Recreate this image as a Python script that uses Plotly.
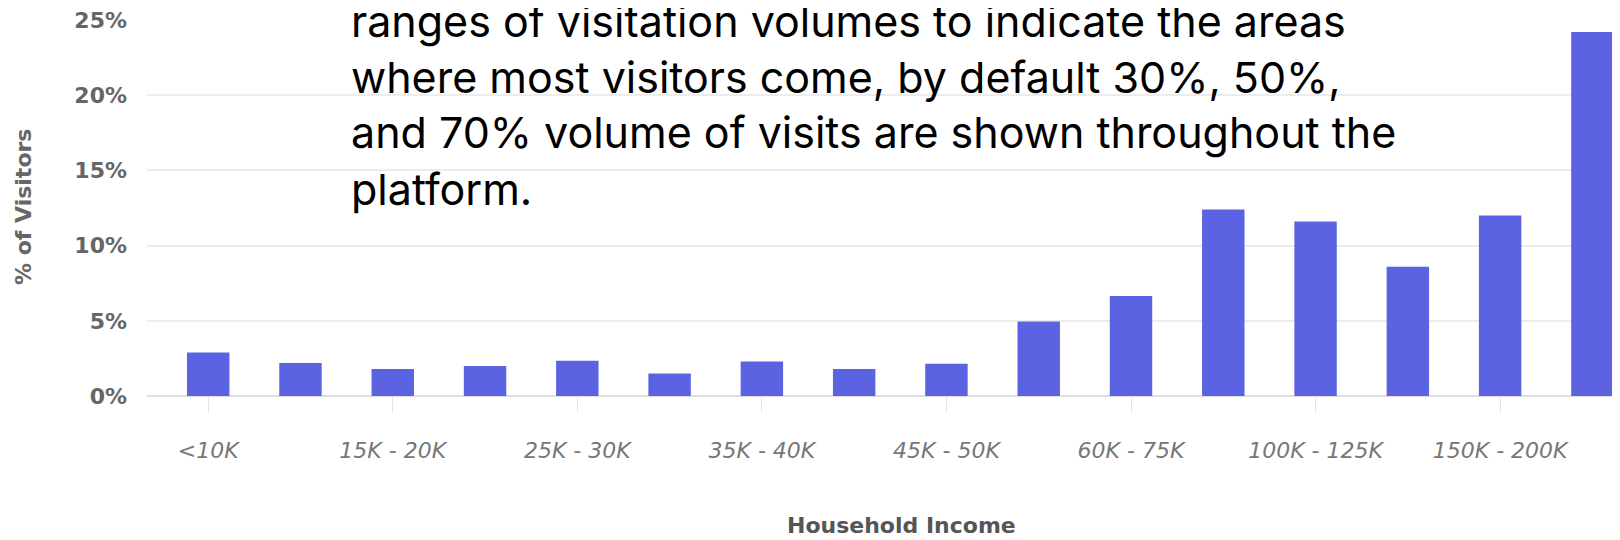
import plotly.graph_objects as go

categories = ["<10K", "10K - 15K", "15K - 20K", "20K - 25K", "25K - 30K", "30K - 35K",
              "35K - 40K", "40K - 45K", "45K - 50K", "50K - 60K", "60K - 75K",
              "75K - 100K", "100K - 125K", "125K - 150K", "150K - 200K", ">200K"]
visitors_pct = [2.9, 2.2, 1.8, 2.0, 2.35, 1.5, 2.3, 1.8, 2.15, 4.95, 6.65,
                12.4, 11.6, 8.6, 12.0, 24.2]
tick_labels = categories[0:15:2]
y_ticks = [0, 5, 10, 15, 20, 25]
y_tick_text = ["0%", "5%", "10%", "15%", "20%", "25%"]

overlay_lines = [
    "ranges of visitation volumes to indicate the areas",
    "where most visitors come, by default 30%, 50%,",
    "and 70% volume of visits are shown throughout the",
    "platform.",
]

# page body has an 8px default margin; layout is expressed in page pixels
OFF = 8
W, H = 1620, 540
PLOT_L, PLOT_T, PLOT_B = 147, 20, 396      # page pixels
ML, MT = PLOT_L - OFF, PLOT_T - OFF
MB = H - (PLOT_B - OFF)
MR = 0
PW, PH = W - ML - MR, H - MT - MB
CAT0, STEP = 208.2, 92.28                   # page x of first category centre, spacing

def px_x(x):
    return (x - OFF - ML) / PW

def px_y(y):
    return (PLOT_B - y) / PH

x_lo = (PLOT_L - CAT0) / STEP
x_hi = (W + OFF - CAT0) / STEP

fig = go.Figure()
fig.add_trace(go.Bar(
    x=categories, y=visitors_pct,
    marker=dict(color="#5c63e3", line=dict(width=0)),
    width=0.46,
))

fig.update_layout(
    width=W, height=H,
    margin=dict(l=ML, r=MR, t=MT, b=MB, pad=0, autoexpand=False),
    paper_bgcolor="white", plot_bgcolor="white",
    showlegend=False,
    bargap=0.54,
)

fig.update_xaxes(
    type="category", automargin=False,
    categoryorder="array", categoryarray=categories,
    range=[x_lo, x_hi],
    tickmode="array", tickvals=tick_labels, ticktext=tick_labels,
    ticks="outside", ticklen=15, tickwidth=1, tickcolor="#e4e4e4",
    ticklabelstandoff=20, ticklabeloverflow="allow",
    tickfont=dict(family="DejaVu Sans", size=22, color="#777777", style="italic"),
    showgrid=False, showline=False, zeroline=False,
)

fig.update_yaxes(
    range=[0, 25], automargin=False,
    tickmode="array", tickvals=y_ticks, ticktext=y_tick_text,
    tickfont=dict(family="DejaVu Sans", size=22, color="#666666", weight="bold"),
    ticklabelstandoff=19, ticklabeloverflow="allow",
    showgrid=True, gridcolor="#ececec", gridwidth=2,
    zeroline=True, zerolinecolor="#dedede", zerolinewidth=2,
    showline=False,
)

fig.add_annotation(
    text="Household Income", xref="paper", yref="paper",
    x=px_x(901.7), y=px_y(525.5), xanchor="center", yanchor="middle",
    showarrow=False,
    font=dict(family="DejaVu Sans", size=22, color="#555555", weight="bold"),
)
fig.add_annotation(
    text="% of Visitors", xref="paper", yref="paper",
    x=px_x(23.5), y=px_y(207.5), xanchor="center", yanchor="middle",
    textangle=-90, showarrow=False,
    font=dict(family="DejaVu Sans", size=22, color="#666666", weight="bold"),
)

line_mids = [21, 76.5, 132.5, 189]
for line, ym in zip(overlay_lines, line_mids):
    fig.add_annotation(
        text=line, xref="paper", yref="paper",
        x=px_x(349), y=px_y(ym), xanchor="left", yanchor="middle",
        align="left", showarrow=False,
        font=dict(family="Inter", size=43, color="#000000"),
    )

fig.write_html("out.html")
